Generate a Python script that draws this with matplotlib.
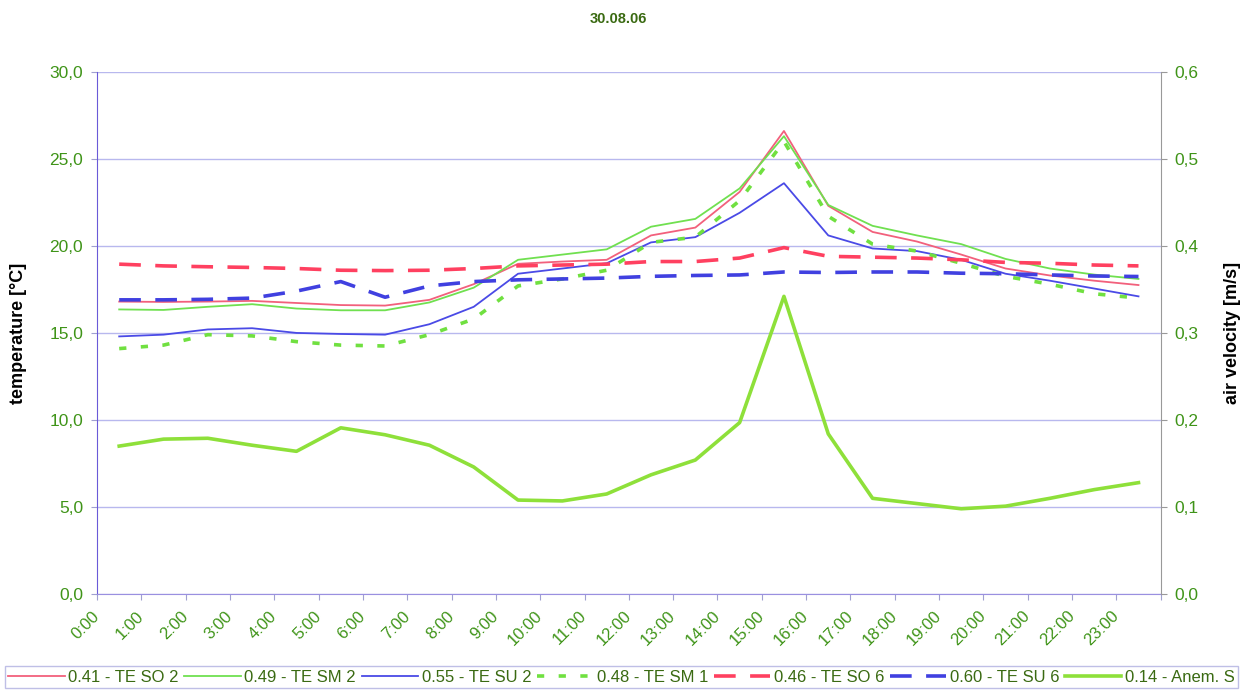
import matplotlib
matplotlib.use("Agg")
import matplotlib.pyplot as plt
from matplotlib.ticker import FuncFormatter

plt.rcParams['font.family'] = ['Liberation Sans', 'DejaVu Sans']

hours = [f"{h}:00" for h in range(24)]

te_so2 = [16.8, 16.78, 16.8, 16.84, 16.72, 16.6, 16.57, 16.9, 17.8, 18.97, 19.1, 19.2,
          20.6, 21.05, 23.1, 26.6, 22.3, 20.8, 20.25, 19.5, 18.7, 18.3, 18.0, 17.75]
te_sm2 = [16.35, 16.32, 16.5, 16.65, 16.4, 16.3, 16.3, 16.75, 17.6, 19.2, 19.5, 19.8,
          21.1, 21.55, 23.3, 26.3, 22.35, 21.15, 20.6, 20.1, 19.25, 18.7, 18.35, 18.1]
te_su2 = [14.8, 14.9, 15.2, 15.27, 15.0, 14.94, 14.9, 15.5, 16.5, 18.4, 18.7, 19.0,
          20.2, 20.5, 21.9, 23.6, 20.6, 19.85, 19.7, 19.2, 18.4, 18.0, 17.55, 17.1]
te_sm1 = [14.1, 14.3, 14.9, 14.83, 14.5, 14.3, 14.25, 14.9, 15.8, 17.7, 18.1, 18.6,
          20.2, 20.5, 22.6, 26.0, 21.7, 20.1, 19.7, 19.0, 18.25, 17.8, 17.25, 17.0]
te_so6 = [18.95, 18.85, 18.8, 18.76, 18.7, 18.6, 18.58, 18.6, 18.7, 18.85, 18.9, 18.95,
          19.1, 19.1, 19.3, 19.9, 19.4, 19.35, 19.3, 19.2, 19.05, 19.0, 18.9, 18.85]
te_su6 = [16.9, 16.9, 16.93, 17.0, 17.4, 17.95, 17.05, 17.7, 17.95, 18.05, 18.1, 18.15,
          18.25, 18.3, 18.33, 18.5, 18.47, 18.5, 18.5, 18.43, 18.4, 18.33, 18.27, 18.24]
anem_s = [0.170, 0.178, 0.179, 0.171, 0.164, 0.191, 0.183, 0.171, 0.146, 0.108, 0.107, 0.115,
          0.137, 0.154, 0.197, 0.342, 0.184, 0.110, 0.104, 0.098, 0.101, 0.110, 0.120, 0.128]

series_names = ["0.41 - TE SO 2", "0.49 - TE SM 2", "0.55 - TE SU 2", "0.48 - TE SM 1",
                "0.46 - TE SO 6", "0.60 - TE SU 6", "0.14 - Anem. S"]

label_green = '#3f9418'
text_green = '#3a6a12'

fig = plt.figure(figsize=(12.44, 6.9), dpi=100)
ax = fig.add_axes([0.078, 0.139, 0.855, 0.757])
ax2 = ax.twinx()

x = list(range(len(hours)))
h1, = ax.plot(x, te_so2, color='#f2607c', lw=1.3)
h2, = ax.plot(x, te_sm2, color='#70e050', lw=1.3)
h3, = ax.plot(x, te_su2, color='#4a4ae6', lw=1.3)
h4, = ax.plot(x, te_sm1, color='#70e040', lw=2.6, linestyle=(0, (2, 4)))
h5, = ax.plot(x, te_so6, color='#ff4060', lw=2.6, linestyle=(0, (6, 4)))
h6, = ax.plot(x, te_su6, color='#4040e0', lw=2.6, linestyle=(0, (6, 4)))
h7, = ax2.plot(x, anem_s, color='#8ee03a', lw=2.6)

ax.set_xlim(-0.5, 23.5)
ax.set_ylim(0, 30)
ax2.set_ylim(0, 0.6)

ax.set_yticks([0, 5, 10, 15, 20, 25, 30])
ax2.set_yticks([0, 0.1, 0.2, 0.3, 0.4, 0.5, 0.6])
ax.yaxis.set_major_formatter(FuncFormatter(lambda v, p: f"{v:.1f}".replace('.', ',')))
ax2.yaxis.set_major_formatter(FuncFormatter(lambda v, p: f"{v:.1f}".replace('.', ',')))

ax.grid(axis='y', color='#b8b8ee', lw=1.0)
ax.set_axisbelow(True)

# category boundaries carry the hour labels
ax.set_xticks([k - 0.5 for k in range(25)])
ax.set_xticklabels(hours + [''], rotation=45, ha='right', va='center',
                   rotation_mode='anchor', fontsize=12, color=label_green)
ax.tick_params(axis='x', length=4, direction='out', color='#a0a0d0', pad=10)
ax.tick_params(axis='y', length=4, direction='out', color='#a0a0d0',
               labelsize=12.5, labelcolor=label_green, pad=6)
ax2.tick_params(axis='y', length=4, direction='out', color='#999999',
                labelsize=12.5, labelcolor=label_green, pad=6)

ax.spines['top'].set_visible(False)
ax2.spines['top'].set_visible(False)
ax.spines['left'].set_color('#6a5ad8')
ax.spines['bottom'].set_color('#9a90e0')
ax2.spines['right'].set_color('#999999')
ax2.spines['left'].set_visible(False)
ax2.spines['bottom'].set_visible(False)
ax.spines['right'].set_visible(False)

ax.set_ylabel("temperature [°C]", fontsize=13, fontweight='bold', color='black')
ax.yaxis.set_label_coords(-0.066, 0.5)
ax2.set_ylabel("air velocity [m/s]", fontsize=13, fontweight='bold', color='black')
ax2.yaxis.set_label_coords(1.06, 0.5)

fig.text(0.497, 0.972, "30.08.06", ha='center', va='center', fontsize=10.5,
         fontweight='bold', color=text_green)

leg = fig.legend([h1, h2, h3, h4, h5, h6, h7], series_names, ncol=7,
                 loc='lower left', bbox_to_anchor=(0.004, 0.003, 0.991, 0.035),
                 mode='expand', frameon=True, fancybox=False, fontsize=12,
                 handlelength=3.4, handletextpad=0.2, columnspacing=0.6,
                 borderpad=0.2, borderaxespad=0)
leg.get_frame().set_edgecolor('#b0b0e0')
leg.get_frame().set_linewidth(1.0)
for t in leg.get_texts():
    t.set_color(text_green)

fig.savefig("out.png", dpi=100)
